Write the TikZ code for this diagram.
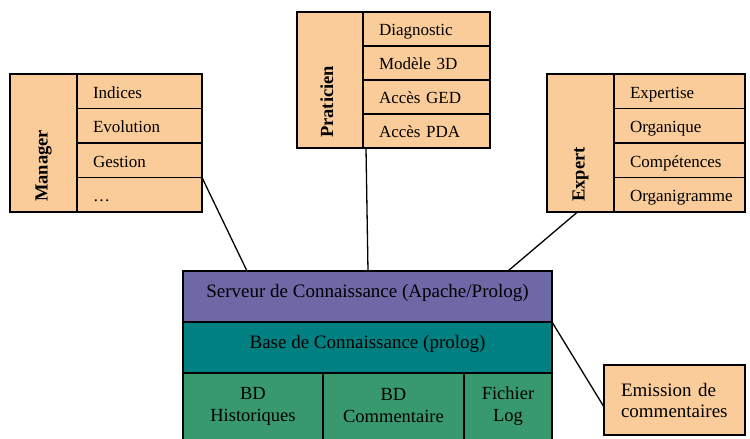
\documentclass[tikz,border=0pt]{standalone}
\usepackage{fontspec}
\setmainfont{Liberation Serif}
\usetikzlibrary{calc}
\definecolor{peach}{HTML}{FACC99}
\definecolor{srvcol}{HTML}{6E68A6}
\definecolor{basecol}{HTML}{008080}
\definecolor{dbcol}{HTML}{38986E}
\begin{document}
\begin{tikzpicture}[x=1pt,y=-1pt,
  box/.style={draw=black, line width=1.6pt, inner sep=0pt, outer sep=0pt, anchor=north west},
  col/.style={box, fill=peach},
  item/.style={box, fill=peach, inner xsep=16pt, text width=#1, align=left, minimum height=34.5pt, text height=15pt, text depth=1.5pt, font=\fontsize{17}{20}\selectfont},
  lab/.style={rotate=90, anchor=base west, inner sep=0pt, font=\bfseries\fontsize{18.5}{22}\selectfont},
  big/.style={box, minimum width=369pt, minimum height=51pt, text height=13pt, text depth=10.5pt, font=\fontsize{19}{22}\selectfont},
  dbcell/.style={box, fill=dbcol, minimum height=75pt},
  dbtext/.style={align=center, inner sep=0pt, font=\fontsize{18.5}{22}\selectfont},
  conn/.style={draw=black, line width=1.3pt}
]
\useasboundingbox (0,0) rectangle (750,439);
\clip (0,0) rectangle (750,439);

% Manager
\node[col, minimum width=67pt, minimum height=138pt] (mgr) at (10,74) {};
\node[lab] (mgrlab) at ($(mgr.south)+(4,-10)$) {Manager};
\node[item=93pt] (m1) at (77,74) {Indices};
\node[item=93pt] (m2) at (77,108.5) {Evolution};
\node[item=93pt] (m3) at (77,143) {Gestion};
\node[item=93pt] (m4) at (77,177.5) {\dots};

% Praticien
\node[col, minimum width=66pt, minimum height=136pt] (pra) at (297,12) {};
\node[lab] (pralab) at ($(pra.south)+(3,-10)$) {Praticien};
\node[item=95pt, minimum height=34pt] (p1) at (363,12) {Diagnostic};
\node[item=95pt, minimum height=34pt] (p2) at (363,46) {Modèle 3D};
\node[item=95pt, minimum height=34pt] (p3) at (363,80) {Accès GED};
\node[item=95pt, minimum height=34pt] (p4) at (363,114) {Accès PDA};

% Expert
\node[col, minimum width=67pt, minimum height=138pt] (exp) at (547,74) {};
\node[lab] (explab) at ($(exp.south)+(4,-10)$) {Expert};
\node[item=99pt] (e1) at (614,74) {Expertise};
\node[item=99pt] (e2) at (614,108.5) {Organique};
\node[item=99pt] (e3) at (614,143) {Compétences};
\node[item=99pt] (e4) at (614,177.5) {Organigramme};

% Server stack
\node[big, fill=srvcol] (srv) at (183,271) {Serveur de Connaissance (Apache/Prolog)};
\node[big, fill=basecol] (base) at (183,322) {Base de Connaissance (prolog)};
\node[dbcell, minimum width=140pt] (db1) at (183,373) {};
\node[dbcell, minimum width=141pt] (db2) at (323,373) {};
\node[dbcell, minimum width=88pt] (db3) at (464,373) {};
\node[dbtext] (t1) at ($(db1.north)+(0,33)$) {BD\\Historiques};
\node[dbtext] (t2) at ($(db2.north)+(0,33)$) {BD\\Commentaire};
\node[dbtext] (t3) at ($(db3.north)+(0,33)$) {Fichier\\Log};

% Emission
\node[box, fill=peach, minimum width=141pt, minimum height=70pt, inner xsep=17pt, text width=107pt, align=left, font=\fontsize{19}{21}\selectfont] (emi) at (604,365) {Emission de\\commentaires};

% Connectors
\draw[conn] (m4.north east) -- ($(srv.north west)+(64,0)$);
\draw[conn] ($(p4.south west)+(3,0)$) -- ($(srv.north west)+(185,0)$);
\draw[conn] ($(exp.south)+(-3,0)$) -- ($(srv.north east)+(-44,0)$);
\draw[conn] (srv.south east) -- ($(emi.west)+(0,7)$);
\end{tikzpicture}
\end{document}
